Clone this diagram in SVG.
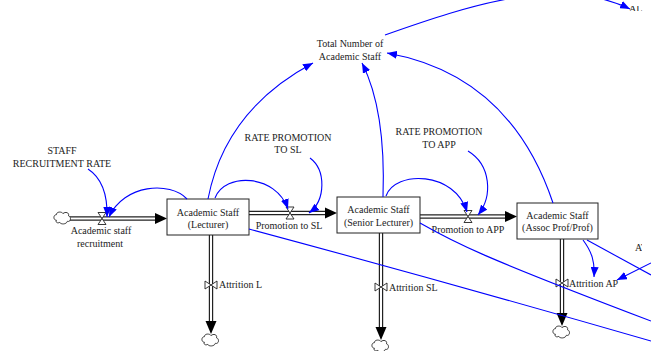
<svg xmlns="http://www.w3.org/2000/svg" width="651" height="351" viewBox="0 0 651 351">
  <defs>
    <style>
      text { font-family: "Liberation Serif", "Times New Roman", serif; font-size: 10px; fill: #222; }
      .mid { text-anchor: middle; }
      .stock { fill: #fff; stroke: #222; stroke-width: 1; }
      .pipeO { fill: none; stroke: #222; stroke-width: 4.4; }
      .pipeI { fill: none; stroke: #fff; stroke-width: 2; }
      .valve { fill: #fff; stroke: #222; stroke-width: 0.9; }
      .cloud { fill: #fff; stroke: #222; stroke-width: 0.8; }
      .link { fill: none; stroke: #0000ff; stroke-width: 1.1; }
      .flowhead { fill: #000; }
    </style>
    <marker id="ah" markerUnits="userSpaceOnUse" markerWidth="10" markerHeight="8" refX="10" refY="4" orient="auto">
      <path d="M0,0 L10,4 L0,8 Z" fill="#0000ff"/>
    </marker>
    <path id="cloudShape" d="M-6,2 C-9,2 -9,-3 -6,-3 C-6,-6 -1,-6 0,-4 C2,-6 6,-5 5,-2 C8,-1 7,4 4,3 C3,6 -2,6 -3,4 C-5,5 -7,4 -6,2 Z"/>
    <path id="valveH" d="M-4,-6 H4 L-4,6 H4 Z"/>
    <path id="valveV" d="M-6,-4 V4 L6,-4 V4 Z"/>
    <clipPath id="clipTop"><rect x="600" y="6" width="51" height="5"/></clipPath>
    <clipPath id="clipRight"><rect x="600" y="235" width="42" height="20"/></clipPath>
  </defs>

  <rect width="651" height="351" fill="#fff"/>

  <!-- material flows (pipes) -->
  <g id="flows">
    <!-- recruitment -->
    <path class="pipeO" d="M68,218.5 H157"/>
    <path class="pipeI" d="M68,218.5 H157"/>
    <path class="flowhead" d="M155,213 L167,218.5 L155,224 Z"/>
    <!-- promotion to SL -->
    <path class="pipeO" d="M249,213 H327"/>
    <path class="pipeI" d="M249,213 H327"/>
    <path class="flowhead" d="M325,207.5 L337,213 L325,218.5 Z"/>
    <!-- promotion to APP -->
    <path class="pipeO" d="M420,216.5 H507"/>
    <path class="pipeI" d="M420,216.5 H507"/>
    <path class="flowhead" d="M505,211 L517,216.5 L505,222 Z"/>
    <!-- attrition L -->
    <path class="pipeO" d="M211,235 V324"/>
    <path class="pipeI" d="M211,235 V324"/>
    <path class="flowhead" d="M205.5,321 L211,334 L216.5,321 Z"/>
    <!-- attrition SL -->
    <path class="pipeO" d="M381,233 V330"/>
    <path class="pipeI" d="M381,233 V330"/>
    <path class="flowhead" d="M375.5,327 L381,340 L386.5,327 Z"/>
    <!-- attrition AP -->
    <path class="pipeO" d="M562,239 V316"/>
    <path class="pipeI" d="M562,239 V316"/>
    <path class="flowhead" d="M556.5,313 L562,326 L567.5,313 Z"/>
  </g>

  <!-- sources and sinks -->
  <g id="clouds">
    <use href="#cloudShape" class="cloud" transform="translate(63,218) scale(1.1)"/>
    <use href="#cloudShape" class="cloud" transform="translate(211,340) scale(1.1)"/>
    <use href="#cloudShape" class="cloud" transform="translate(381,346) scale(1.1)"/>
    <use href="#cloudShape" class="cloud" transform="translate(562,332) scale(1.1)"/>
  </g>

  <!-- stocks -->
  <g id="stock-lecturer">
    <rect class="stock" x="167" y="199" width="82" height="36"/>
    <text class="mid" x="208" y="216">Academic Staff</text>
    <text class="mid" x="208" y="228">(Lecturer)</text>
  </g>
  <g id="stock-senior">
    <rect class="stock" x="337" y="197" width="83" height="36"/>
    <text class="mid" x="378.5" y="213">Academic Staff</text>
    <text class="mid" x="378.5" y="226">(Senior Lecturer)</text>
  </g>
  <g id="stock-assoc">
    <rect class="stock" x="517" y="203" width="81" height="36"/>
    <text class="mid" x="557.5" y="219">Academic Staff</text>
    <text class="mid" x="557.5" y="231">(Assoc Prof/Prof)</text>
  </g>

  <!-- rates (valves with labels) -->
  <g id="rate-recruitment">
    <use href="#valveH" class="valve" transform="translate(102,218.5)"/>
    <text class="mid" x="101" y="234">Academic staff</text>
    <text class="mid" x="100" y="247">recruitment</text>
  </g>
  <g id="rate-promotion-sl">
    <use href="#valveH" class="valve" transform="translate(290,213)"/>
    <text class="mid" x="289" y="229">Promotion to SL</text>
  </g>
  <g id="rate-promotion-app">
    <use href="#valveH" class="valve" transform="translate(468,216.5)"/>
    <text class="mid" x="468" y="233">Promotion to APP</text>
  </g>
  <g id="rate-attrition-l">
    <use href="#valveV" class="valve" transform="translate(211,285)"/>
    <text x="219" y="288">Attrition L</text>
  </g>
  <g id="rate-attrition-sl">
    <use href="#valveV" class="valve" transform="translate(381,287)"/>
    <text x="389" y="291">Attrition SL</text>
  </g>
  <g id="rate-attrition-ap">
    <use href="#valveV" class="valve" transform="translate(562,283)"/>
    <text x="569" y="287">Attrition AP</text>
  </g>

  <!-- auxiliaries and constants -->
  <g id="staff-recruitment-rate">
    <text class="mid" x="62" y="154">STAFF</text>
    <text class="mid" x="62" y="167">RECRUITMENT RATE</text>
  </g>
  <g id="rate-promotion-to-sl">
    <text class="mid" x="288" y="141">RATE PROMOTION</text>
    <text class="mid" x="288" y="153">TO SL</text>
  </g>
  <g id="rate-promotion-to-app">
    <text class="mid" x="439" y="135">RATE PROMOTION</text>
    <text class="mid" x="439" y="148">TO APP</text>
  </g>
  <g id="total-academic-staff">
    <text class="mid" x="350" y="47">Total Number of</text>
    <text class="mid" x="350" y="60">Academic Staff</text>
  </g>
  <g id="offscreen-labels">
    <text x="629" y="12" clip-path="url(#clipTop)">AL</text>
    <text x="635" y="251" clip-path="url(#clipRight)">AT</text>
  </g>

  <!-- information links -->
  <g id="connectors">
    <path class="link" marker-end="url(#ah)" d="M88,169 Q108,182 107,217"/>
    <path class="link" marker-end="url(#ah)" d="M187,199 C170,181 124,184 109,217"/>
    <path class="link" marker-end="url(#ah)" d="M215,198 C225,172 276,174 288,209"/>
    <path class="link" marker-end="url(#ah)" d="M310,158 C326,170 326,200 309,213"/>
    <path class="link" marker-end="url(#ah)" d="M386,196 C395,170 455,171 467,212"/>
    <path class="link" marker-end="url(#ah)" d="M468,151 C491,165 493,196 478,215"/>
    <path class="link" marker-end="url(#ah)" d="M208,199 Q225,110 313,63"/>
    <path class="link" marker-end="url(#ah)" d="M383,197 Q386,110 362,63"/>
    <path class="link" marker-end="url(#ah)" d="M553,203 Q510,75 387,53"/>
    <path class="link" marker-end="url(#ah)" d="M385,35 C470,5 560,-25 630,9"/>
    <path class="link" marker-end="url(#ah)" d="M583,240 C592,252 595,262 594,277"/>
    <path class="link" marker-end="url(#ah)" d="M651,263 L617,280"/>
    <path class="link" d="M587,240 L651,275"/>
    <path class="link" d="M249,229 Q450,283 651,341"/>
    <path class="link" d="M420,223 C455,243 480,256 651,321"/>
  </g>
</svg>
